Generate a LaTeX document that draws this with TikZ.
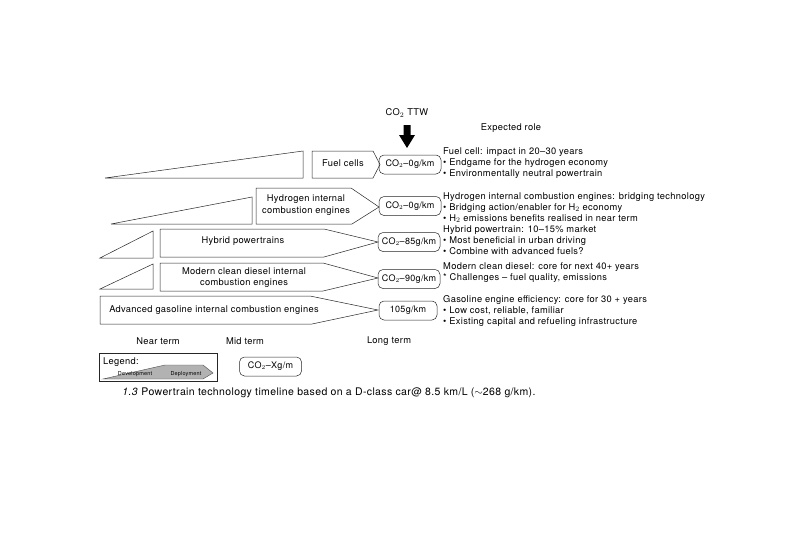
\documentclass[tikz,border=0pt]{standalone}
\usepackage{fontspec}
\setmainfont[LetterSpace=3.5]{TeX Gyre Heros}
\begin{document}
\begin{tikzpicture}[x=1pt,y=-1pt,
  shp/.style={draw=black!85,line width=0.5pt,fill=white},
  lbl/.style={font=\fontsize{9.3}{11.5}\selectfont,align=center,inner sep=0pt},
  co/.style={draw=black!85,line width=0.5pt,rounded corners=5pt,minimum width=62pt,minimum height=19pt,inner sep=0pt,font=\fontsize{9}{10}\selectfont},
  role/.style={font=\fontsize{9.3}{11}\selectfont,align=left,anchor=west,inner sep=0pt},
  term/.style={font=\fontsize{9.3}{10}\selectfont,inner sep=0pt}]
\useasboundingbox (0,0) rectangle (800,533);
% Row 1: fuel cells
\draw[shp] (105,178) -- (303,151) -- (303,178) -- cycle;
\draw[shp] (312,151) -- (373,151) -- (380,164.5) -- (373,178) -- (312,178) -- cycle;
\node[lbl] (t1) at (343,163) {Fuel cells};
\node[co] (b1) at (410,164.5) {CO$_2$--0g/km};
% Row 2: hydrogen ICE
\draw[shp] (111,224) -- (252,197) -- (252,224) -- cycle;
\draw[shp] (256,188) -- (351,188) -- (379,207) -- (352,224) -- (256,224) -- cycle;
\node[lbl] (t2) at (306,205) {Hydrogen internal\\combustion engines};
\node[co] (b2) at (410,206) {CO$_2$--0g/km};
% Row 3: hybrid
\draw[shp] (100,258) -- (153,231) -- (153,258) -- cycle;
\draw[shp] (160,229) -- (324,229) -- (378,242) -- (324,257) -- (160,257) -- cycle;
\node[lbl] (t3) at (243,241) {Hybrid powertrains};
\node[co] (b3) at (409,242) {CO$_2$--85g/km};
% Row 4: diesel
\draw[shp] (100,289) -- (153,264) -- (153,289) -- cycle;
\draw[shp] (160,263) -- (323,263) -- (378,278) -- (323,291) -- (160,291) -- cycle;
\node[lbl] (t4) at (244,277.5) {Modern clean diesel internal\\combustion engines};
\node[co] (b4) at (409,279) {CO$_2$--90g/km};
% Row 5: gasoline
\draw[shp] (100,296) -- (310,296) -- (378,310) -- (312,324) -- (100,324) -- cycle;
\node[lbl] (t5) at (214,310) {Advanced gasoline internal combustion engines};
\node[co,minimum width=58pt] (b5) at (408,310.5) {105g/km};
% CO2 TTW arrow
\node[term] (ttw) at (407,113) {CO$_2$ TTW};
\fill[black] (403.5,125) -- (410.5,125) -- (410.5,135) -- (415,135) -- (407,148) -- (399,135) -- (403.5,135) -- cycle;
\node[term] (er) at (511,128) {Expected role};
% Expected roles
\node[role] (r1) at (443,163.5) {Fuel cell: impact in 20--30 years\\
  \textbullet\ Endgame for the hydrogen economy\\
  \textbullet\ Environmentally neutral powertrain};
\node[role] (r2) at (443,207.5) {Hydrogen internal combustion engines: bridging technology\\
  \textbullet\ Bridging action/enabler for H$_2$ economy\\
  \textbullet\ H$_2$ emissions benefits realised in near term};
\node[role] (r3) at (443,240) {Hybrid powertrain: 10--15\% market\\
  \textbullet\ Most beneficial in urban driving\\
  \textbullet\ Combine with advanced fuels?};
\node[role] (r4) at (443,273) {Modern clean diesel: core for next 40+ years\\
  * Challenges -- fuel quality, emissions};
\node[role] (r5) at (443,311) {Gasoline engine efficiency: core for 30 + years\\
  \textbullet\ Low cost, reliable, familiar\\
  \textbullet\ Existing capital and refueling infrastructure};
% Terms
\node[term] (nt) at (158,341) {Near term};
\node[term] (mt) at (245,341) {Mid term};
\node[term] (lt) at (389,341) {Long term};
% Legend
\draw[draw=black!85,line width=0.6pt] (99,353) rectangle (217,381);
\node[term,anchor=west] (lg) at (103,362) {Legend:};
\fill[black!30] (103,379) -- (165,365) -- (203,365) -- (213,373) -- (203,379) -- cycle;
\draw[black!70,line width=0.4pt] (103,379) -- (165,365) -- (203,365) -- (213,373) -- (203,379) -- cycle;
\node[font=\fontsize{5.5}{5.5}\selectfont,inner sep=0pt] (ld) at (135,374.5) {Development};
\node[font=\fontsize{5.5}{5.5}\selectfont,inner sep=0pt] (lp) at (186,374.5) {Deployment};
\node[co] (bx) at (270.5,366.5) {CO$_2$--Xg/m};
% Caption
\node[font=\fontsize{10.5}{12}\selectfont,inner sep=0pt] (cap) at (329,393) {\textit{1.3} Powertrain technology timeline based on a D-class car@ 8.5 km/L ($\sim$268 g/km).};
\end{tikzpicture}
\end{document}
